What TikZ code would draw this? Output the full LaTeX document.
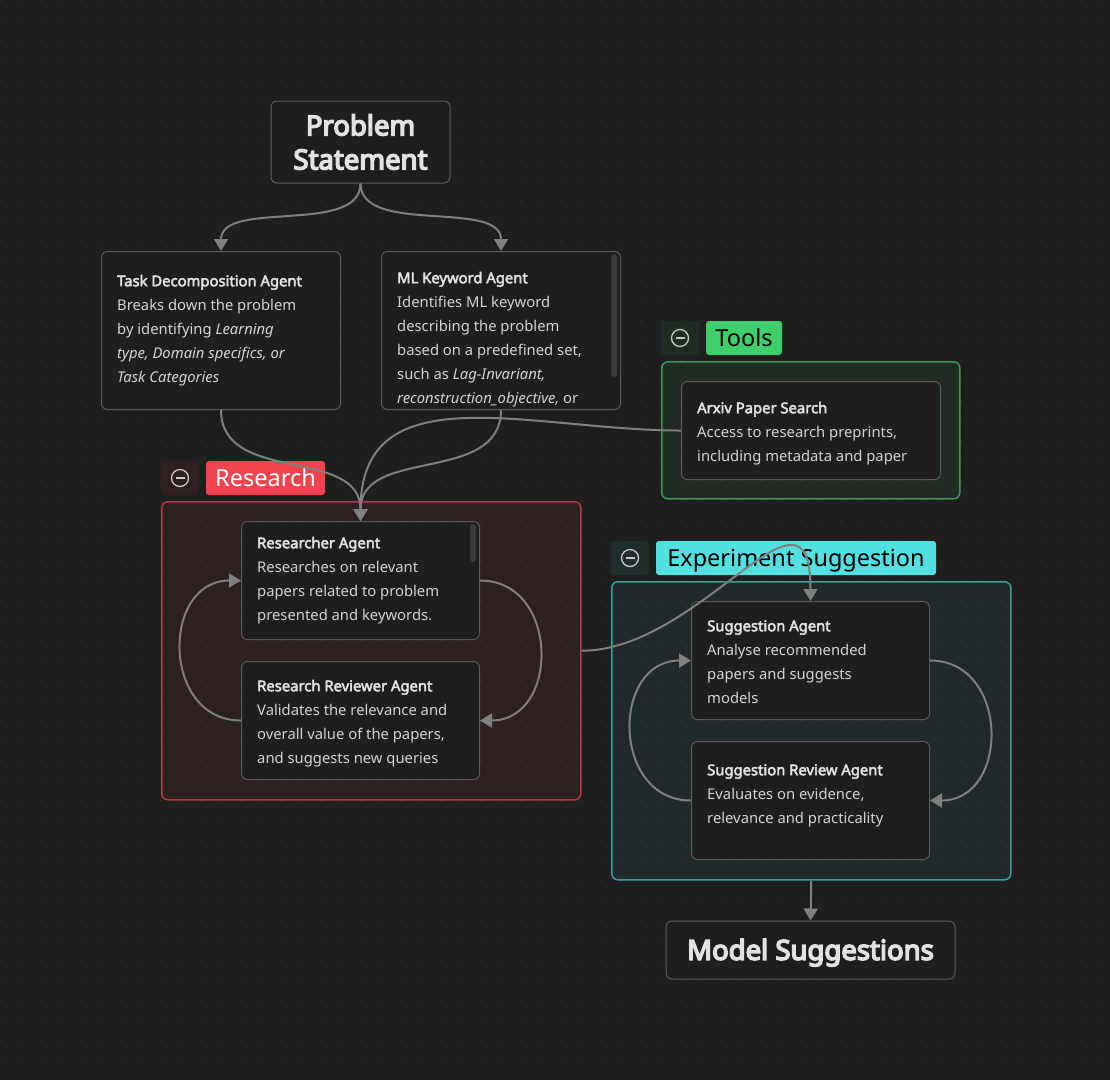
\documentclass[tikz,border=0pt]{standalone}
\usepackage{fontspec}
\setmainfont{Noto Sans}[AutoFakeBold=3.2]
\newfontfamily\heavyfont{Noto Sans}[FakeBold=5.5]
\usetikzlibrary{arrows.meta}
\definecolor{bgc}{HTML}{1E1E1E}
\definecolor{nodef}{HTML}{1E1E1E}
\definecolor{nodeb}{HTML}{5A5A5A}
\definecolor{edgec}{HTML}{808080}
\definecolor{tc}{HTML}{D4D4D4}
\definecolor{tct}{HTML}{E2E2E2}
\definecolor{toolf}{HTML}{212A23}
\definecolor{toolb}{HTML}{3A9A55}
\definecolor{toolh}{HTML}{40CE6C}
\definecolor{tooli}{HTML}{1F2A21}
\definecolor{resf}{HTML}{2D2021}
\definecolor{resb}{HTML}{B03C42}
\definecolor{resh}{HTML}{F0454F}
\definecolor{resi}{HTML}{2E1F20}
\definecolor{expf}{HTML}{22292B}
\definecolor{expb}{HTML}{3A9E9E}
\definecolor{exph}{HTML}{52E0E0}
\definecolor{expi}{HTML}{1F2D2D}
\definecolor{iconc}{HTML}{C8C8C8}
\definecolor{scrollc}{HTML}{3A3A3A}
\newcommand\bodyfont{\fontsize{14.8}{24}\selectfont}
\newcommand\fl{\rule{0pt}{20pt}}
\newcommand\ttl[1]{\textcolor{tct}{\textbf{#1}}}
\begin{document}
\begin{tikzpicture}[x=1pt,y=-1pt,
  box/.style={draw=nodeb, fill=nodef, line width=1pt, rounded corners=6pt, anchor=north west, inner sep=0pt},
  grp/.style={line width=1.5pt, rounded corners=6pt, anchor=north west, inner sep=0pt},
  txt/.style={anchor=north west, inner sep=0pt, align=left, font=\bodyfont, text=tc},
  hdr/.style={rounded corners=3pt, inner sep=0pt, minimum height=34pt, font=\fontsize{23.5}{28}\selectfont, text height=17pt, text depth=0pt},
  grpicon/.style={rounded corners=3pt, inner sep=0pt, minimum width=38pt, minimum height=34pt},
  big/.style={draw=nodeb, fill=nodef, line width=1pt, rounded corners=6pt, inner sep=0pt, align=center, text=tct, font=\heavyfont\fontsize{27.5}{34}\selectfont},
  conn/.style={draw=edgec, line width=2pt, -{Triangle[length=12pt,width=14pt]}},
  minus/.style={draw=iconc, line width=1.3pt}
]
\useasboundingbox (0,0) rectangle (1110,1080);
\fill[bgc] (0,0) rectangle (1110,1080);

% groups
\node[grp, draw=toolb, fill=toolf, minimum width=298pt, minimum height=137pt] (tools) at (661,361) {};
\node[grp, draw=resb, fill=resf, minimum width=419pt, minimum height=298pt] (research) at (161,501) {};
\node[grp, draw=expb, fill=expf, minimum width=399pt, minimum height=298pt] (exp) at (611,581) {};

% dot grid
\begin{scope}[white, opacity=0.07]
\foreach \i in {0,...,55}{\foreach \j in {0,...,53}{\fill (1+20*\i,1+20*\j) circle[radius=1pt];}}
\end{scope}

% group headers
\node[grpicon, fill=tooli] (ti) at (680,338) {};
\node[hdr, fill=toolh, minimum width=76pt, text=black] (tl) at (744,338) {Tools};
\node[grpicon, fill=resi] (ri) at (180,478) {};
\node[hdr, fill=resh, minimum width=119pt, text=white] (rl) at (265.5,478) {Research};
\node[grpicon, fill=expi] (ei) at (630,558) {};
\node[hdr, fill=exph, minimum width=280pt, text=black] (el) at (796,558) {Experiment Suggestion};
\foreach \n in {ti,ri,ei}{
  \draw[minus] (\n.center) circle[radius=8.5pt];
  \draw[minus] ([xshift=-4.5pt]\n.center) -- ([xshift=4.5pt]\n.center);
}

% main nodes
\node[big, minimum width=179pt, minimum height=82pt] (ps) at (360.5,142) {\raisebox{-2.5pt}{Problem}\\\raisebox{-2.5pt}{Statement}};
\node[big, minimum width=289pt, minimum height=58pt, text height=19.6pt, text depth=0pt] (ms) at (810.5,950) {Model Suggestions};

\node[box, minimum width=239pt, minimum height=158pt] (tda) at (101,251) {};
\node[txt] (tdat) at (117,266) {\fl\ttl{Task Decomposition Agent}\\Breaks down the problem\\by identifying \textit{Learning}\\\textit{type, Domain specifics, or}\\\textit{Task Categories}};

\node[box, minimum width=239pt, minimum height=158pt] (mlk) at (381,251) {};
\node[txt] (mlkt) at (397,263) {\fl\ttl{ML Keyword Agent}\\Identifies ML keyword\\describing the problem\\based on a predefined set,\\such as \textit{Lag-Invariant,}\\\textit{reconstruction\_objective,} or};
\fill[scrollc, rounded corners=3pt] (611,254) rectangle (617,377);

\node[box, minimum width=259pt, minimum height=98pt] (arx) at (681,381) {};
\node[txt] (arxt) at (697,393) {\fl\ttl{Arxiv Paper Search}\\Access to research preprints,\\including metadata and paper};

\node[box, minimum width=238pt, minimum height=118pt] (ra) at (241,521) {};
\node[txt] (rat) at (257,528) {\fl\ttl{Researcher Agent}\\Researches on relevant\\papers related to problem\\presented and keywords.};
\fill[scrollc, rounded corners=3pt] (470,524) rectangle (476,562);

\node[box, minimum width=238pt, minimum height=118pt] (rr) at (241,661) {};
\node[txt] (rrt) at (257,671) {\fl\ttl{Research Reviewer Agent}\\Validates the relevance and\\overall value of the papers,\\and suggests new queries};

\node[box, minimum width=238pt, minimum height=118pt] (sa) at (691,601) {};
\node[txt] (sat) at (707,611) {\fl\ttl{Suggestion Agent}\\Analyse recommended\\papers and suggests\\models};

\node[box, minimum width=238pt, minimum height=118pt] (sra) at (691,741) {};
\node[txt] (srat) at (707,755) {\fl\ttl{Suggestion Review Agent}\\Evaluates on evidence,\\relevance and practicality};

% connectors
\draw[conn] (ps.south) .. controls +(0,52) and +(0,-52) .. (tda.north);
\draw[conn] (ps.south) .. controls +(0,52) and +(0,-52) .. (mlk.north);
\draw[conn] (tda.south) .. controls +(0,75) and +(0,-75) .. (ra.north);
\draw[conn] (mlk.south) .. controls +(0,75) and +(0,-75) .. (ra.north);
\draw[conn] (arx.west) .. controls +(-150,0) and +(0,-150) .. (ra.north);
\draw[conn] (ra.east) .. controls +(80,0) and +(80,0) .. (rr.east);
\draw[conn] (rr.west) .. controls +(-80,0) and +(-80,0) .. (ra.west);
\draw[conn] (research.east) .. controls +(120,0) and +(0,-140) .. (sa.north);
\draw[conn] (sa.east) .. controls +(80,0) and +(80,0) .. (sra.east);
\draw[conn] (sra.west) .. controls +(-80,0) and +(-80,0) .. (sa.west);
\draw[conn] (exp.south) -- (ms.north);
\end{tikzpicture}
\end{document}
